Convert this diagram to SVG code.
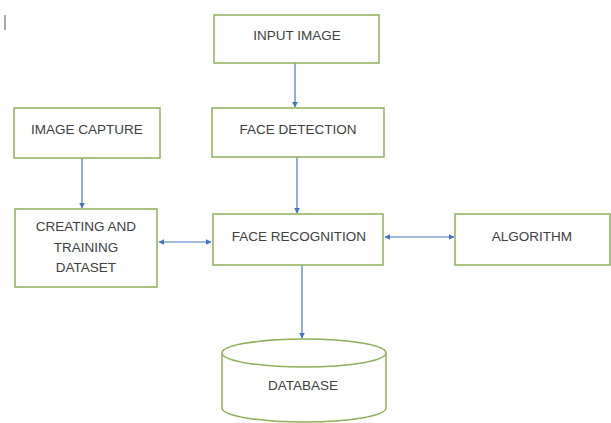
<svg xmlns="http://www.w3.org/2000/svg" width="611" height="423" viewBox="0 0 611 423">
<defs>
<marker id="ah" viewBox="0 0 10 10" refX="9" refY="5" markerWidth="6" markerHeight="6" orient="auto-start-reverse" markerUnits="userSpaceOnUse">
<path d="M0,0 L10,5 L0,10 z" fill="#4472c4"/>
</marker>
<style>
.box{fill:#ffffff;stroke:#8faf5a;stroke-width:1.5}
.t{font-family:"Liberation Sans",Arial,sans-serif;font-size:13.5px;fill:#404040;text-anchor:middle}
.c{stroke:#4a74c0;stroke-width:1.2;fill:none}
</style>
</defs>
<rect width="611" height="423" fill="#ffffff"/>
<line x1="5" y1="15" x2="5" y2="30" stroke="#555" stroke-width="1"/>
<g id="connectors">
<line class="c" x1="295" y1="63" x2="295" y2="107" marker-end="url(#ah)"/>
<line class="c" x1="82" y1="158" x2="82" y2="208" marker-end="url(#ah)"/>
<line class="c" x1="297" y1="157" x2="297" y2="213" marker-end="url(#ah)"/>
<line class="c" x1="159" y1="242" x2="211" y2="242" marker-start="url(#ah)" marker-end="url(#ah)"/>
<line class="c" x1="385" y1="237" x2="454" y2="237" marker-start="url(#ah)" marker-end="url(#ah)"/>
<line class="c" x1="302" y1="265" x2="302" y2="338" marker-end="url(#ah)"/>
</g>
<g id="input-image">
<rect class="box" x="214" y="15" width="165" height="48"/>
<text class="t" x="297" y="40">INPUT IMAGE</text>
</g>
<g id="face-detection">
<rect class="box" x="212" y="108" width="172" height="49"/>
<text class="t" x="298" y="134">FACE DETECTION</text>
</g>
<g id="image-capture">
<rect class="box" x="14" y="108" width="146" height="50"/>
<text class="t" x="87" y="134">IMAGE CAPTURE</text>
</g>
<g id="creating-training-dataset">
<rect class="box" x="15" y="209" width="142" height="78"/>
<text class="t" x="86" y="231">CREATING AND</text>
<text class="t" x="86" y="252">TRAINING</text>
<text class="t" x="86" y="272">DATASET</text>
</g>
<g id="face-recognition">
<rect class="box" x="213" y="214" width="170" height="51"/>
<text class="t" x="299" y="241">FACE RECOGNITION</text>
</g>
<g id="algorithm">
<rect class="box" x="455" y="214" width="155" height="51"/>
<text class="t" x="532" y="241">ALGORITHM</text>
</g>
<g id="database">
<path class="box" d="M222,353 L222,408 A82,14 0 0 0 386,408 L386,353"/>
<ellipse class="box" cx="304" cy="353" rx="82" ry="14"/>
<text class="t" x="303" y="390">DATABASE</text>
</g>
</svg>
